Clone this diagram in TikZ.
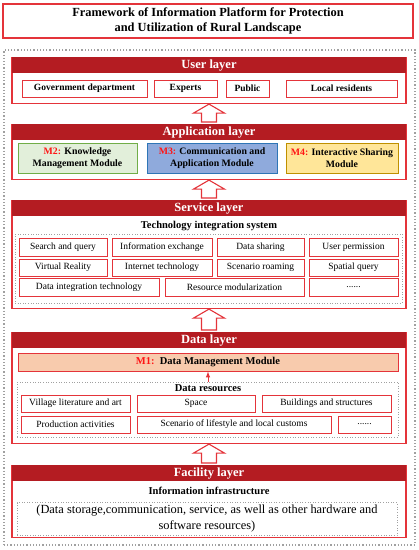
\documentclass[tikz,border=0pt]{standalone}
\usepackage{fontspec}
\setmainfont{Liberation Serif}
\usetikzlibrary{calc, positioning}

\definecolor{hdred}{RGB}{180,28,34}
\definecolor{lyred}{RGB}{228,52,58}
\definecolor{mred}{RGB}{255,20,20}
\definecolor{greenfill}{RGB}{226,239,218}
\definecolor{greenline}{RGB}{112,173,71}
\definecolor{bluefill}{RGB}{143,170,220}
\definecolor{blueline}{RGB}{46,117,182}
\definecolor{yellowfill}{RGB}{255,230,153}
\definecolor{yellowline}{RGB}{191,144,0}
\definecolor{peach}{RGB}{248,203,173}
\definecolor{dotgray}{RGB}{160,160,160}

\begin{document}
\begin{tikzpicture}[x=1pt, y=-1pt,
  layer/.style={draw=lyred, line width=1.1pt, minimum width=394, anchor=north, inner sep=0},
  head/.style={fill=hdred, text=white, font=\fontsize{12.5}{14}\selectfont\bfseries,
    minimum width=394, minimum height=16, anchor=north, inner sep=0},
  item/.style={draw=lyred, line width=0.9pt, fill=white, inner sep=0,
    font=\fontsize{9.5}{11}\selectfont},
  bitem/.style={item, font=\fontsize{9.5}{11}\selectfont\bfseries},
  module/.style={line width=1pt, inner sep=0, align=center,
    font=\fontsize{9.8}{12.5}\selectfont\bfseries},
  sub/.style={inner sep=0, font=\fontsize{10.5}{12}\selectfont\bfseries},
  dotbox/.style={draw=dotgray, dotted, line width=0.6pt, inner sep=0},
  hollow/.style={draw=lyred, line width=1.1pt, fill=white, line join=miter}]
\useasboundingbox (0,0) rectangle (419,550);

% title
\node[draw=lyred, line width=1.1pt, minimum width=410, minimum height=34, inner sep=0,
  align=center, font=\fontsize{12.4}{15}\selectfont\bfseries] (title) at (208,21)
  {Framework of Information Platform for Protection\\and Utilization of Rural Landscape};
\node[draw=dotgray, dotted, line width=1.2pt, minimum width=411, minimum height=495,
  inner sep=0] (frame) at (209.5,297.5) {};

% user layer
\node[layer, minimum height=46] (user) at (209,57) {};
\node[head] (userh) at (user.north) {User layer};
\foreach \a/\b/\t/\n in {22/147/Government department/gov, 154/217/Experts/exp,
    226/269/Public/pub, 286/397/Local residents/loc}
  \node[bitem, minimum width=\b-\a, minimum height=17] (\n) at ({(\a+\b)/2},88.5) {\t};

% application layer
\node[layer, minimum height=55] (app) at (209,124) {};
\node[head] (apph) at (app.north) {Application layer};
\node[module, draw=greenline, fill=greenfill, minimum width=119, minimum height=30]
  (m2) at (77.5,158) {\textcolor{mred}{M2:} Knowledge\\Management Module};
\node[module, draw=blueline, fill=bluefill, minimum width=130, minimum height=30]
  (m3) at (212,158) {\textcolor{mred}{M3:} Communication and\\Application Module};
\node[module, draw=yellowline, fill=yellowfill, minimum width=112, minimum height=30]
  (m4) at (342,158) {\textcolor{mred}{M4:} Interactive Sharing\\Module};

% service layer
\node[layer, minimum height=108] (serv) at (209,200) {};
\node[head] (servh) at (serv.north) {Service layer};
\node[sub] (tis) at (209,226) {Technology integration system};
\node[dotbox, minimum width=387, minimum height=69] (techbox) at (208.5,268.5) {};
\foreach \a/\b/\t/\n in {19/107/Search and query/sq, 112/212/Information exchange/ie,
    217/304/Data sharing/ds, 309/398/User permission/up}
  \node[item, minimum width=\b-\a, minimum height=18] (\n) at ({(\a+\b)/2},247) {\t};
\foreach \a/\b/\t/\n in {19/107/Virtual Reality/vr, 112/212/Internet technology/it,
    217/304/Scenario roaming/sr, 309/398/Spatial query/spq}
  \node[item, minimum width=\b-\a, minimum height=17] (\n) at ({(\a+\b)/2},267.5) {\t};
\foreach \a/\b/\t/\n in {19/159/Data integration technology/dit,
    165/304/Resource modularization/rm, 309/398/{......}/more}
  \node[item, minimum width=\b-\a, minimum height=18] (\n) at ({(\a+\b)/2},287) {\t};

% data layer
\node[layer, minimum height=111] (data) at (209,332) {};
\node[head] (datah) at (data.north) {Data layer};
\node[draw=lyred, line width=1pt, fill=peach, minimum width=380, minimum height=18,
  inner sep=0, font=\fontsize{10.5}{12}\selectfont\bfseries] (m1) at (208,362)
  {\textcolor{mred}{M1:}\ \ Data Management Module};
\node[dotbox, minimum width=381, minimum height=55] (resbox) at (207.5,409.5) {};
\node[sub] (dres) at (208,388.5) {Data resources};
\draw[-latex, lyred, line width=1pt] (resbox.north -| m1.south) -- (m1.south);
\foreach \a/\b/\t/\n in {21/130/Village literature and art/vla, 137/255/Space/spc,
    262/391/Buildings and structures/bs}
  \node[item, minimum width=\b-\a, minimum height=17] (\n) at ({(\a+\b)/2},403.5) {\t};
\foreach \a/\b/\t/\n in {21/130/Production activities/pa,
    137/331/Scenario of lifestyle and local customs/slc, 338/391/{......}/dmore}
  \node[item, minimum width=\b-\a, minimum height=17] (\n) at ({(\a+\b)/2},424.5) {\t};

% facility layer
\node[layer, minimum height=72] (fac) at (209,465) {};
\node[head] (fach) at (fac.north) {Facility layer};
\node[sub] (infra) at (209,491) {Information infrastructure};
\node[dotbox, minimum width=380, minimum height=33, align=center,
  font=\fontsize{12.4}{16}\selectfont] (hw) at (207,519)
  {(Data storage,communication, service, as well as other hardware and\\software resources)};

% hollow arrows between layers
\foreach \top/\bot in {user/app, app/serv, serv/data, data/fac}
  \draw[hollow] (\top.south) -- ++(15.5,9) -- ++(-8,0) -- ($(\bot.north)+(7.5,-2)$)
    -- ++(-15,0) -- ($(\top.south)+(-7.5,9)$) -- ++(-8,0) -- cycle;
\end{tikzpicture}
\end{document}
